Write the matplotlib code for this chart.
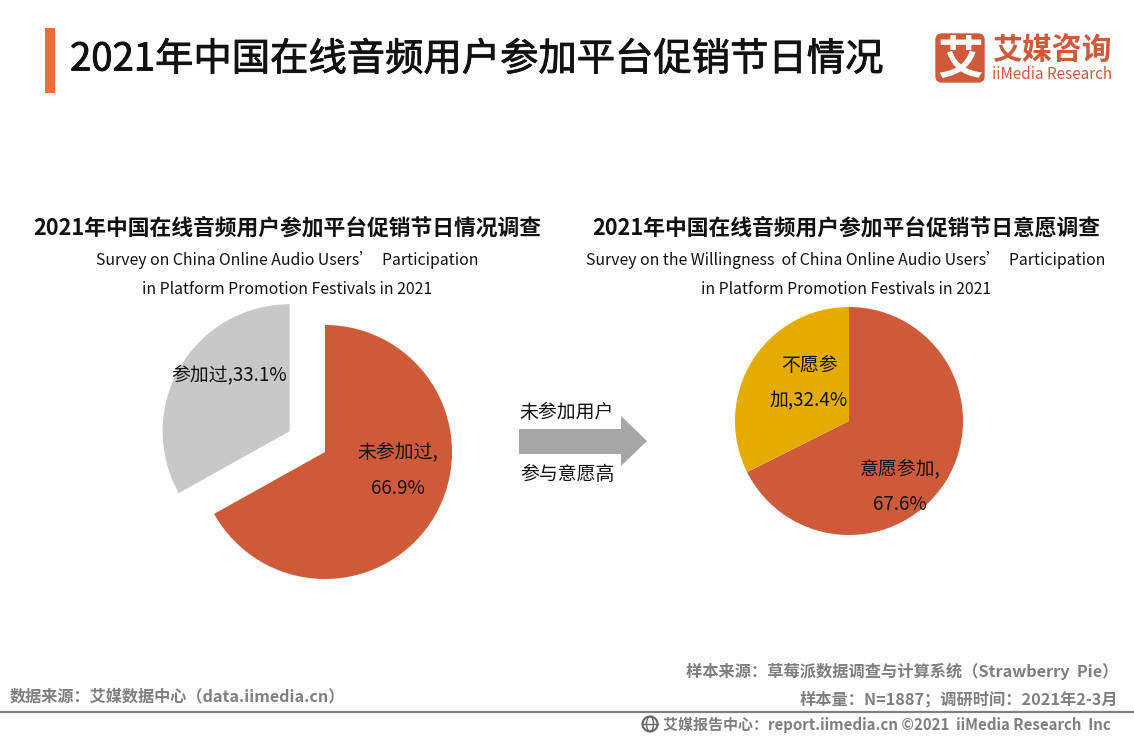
#!/usr/bin/env python3
import matplotlib
matplotlib.use('Agg')
import matplotlib.pyplot as plt
import matplotlib.patheffects as pe
from matplotlib.patches import Rectangle, FancyBboxPatch, Circle, Polygon, Ellipse

plt.rcParams['font.family'] = ['Noto Sans CJK SC', 'DejaVu Sans']

W, H = 1134, 737

# data
part_labels = ['未参加过', '参加过']
part_values = [66.9, 33.1]
will_labels = ['意愿参加', '不愿参加']
will_values = [67.6, 32.4]

RED = '#CF5A3A'
GREY = '#C8C8C8'
YELLOW = '#E5AC00'
ORANGE = '#F26B3A'


def yy(y):
    return H - y


def label(x, y, s, size=13.6, color='#111111', weight='normal', ha='center'):
    return ax.text(x, yy(y), s, fontsize=size, color=color, fontweight=weight,
                   ha=ha, va='center')


fig = plt.figure(figsize=(W / 100, H / 100), dpi=100)
ax = fig.add_axes([0, 0, 1, 1])

# pies (explode is in data units here, i.e. pixels)
ax.pie(part_values, colors=[RED, GREY], startangle=90, counterclock=False,
       explode=[0, 41], radius=127, center=(325, yy(452)), frame=True)
ax.pie(will_values, colors=[RED, YELLOW], startangle=90, counterclock=False,
       radius=114, center=(849, yy(421)), frame=True)

ax.set_xlim(0, W)
ax.set_ylim(0, H)
ax.set_aspect('auto')
ax.axis('off')

# title
ax.add_patch(Rectangle((45, yy(93)), 10, 65, color=ORANGE, lw=0))
title = label(70, 60, '2021年中国在线音频用户参加平台促销节日情况', size=27.6, ha='left')
title.set_path_effects([pe.withStroke(linewidth=0.6, foreground='#111111')])

# logo
ax.add_patch(FancyBboxPatch((936, yy(82)), 48, 48,
                            boxstyle='round,pad=0,rounding_size=6',
                            fc=RED, ec=RED, lw=1))
label(960, 60, '艾', size=33, color='white', weight='bold')
label(1052, 50, '艾媒咨询', size=21.5, color=RED, weight='bold')
label(1052, 74, 'iiMedia Research', size=11, color=RED)

# sub titles
label(287, 228, '2021年中国在线音频用户参加平台促销节日情况调查', size=15.7, weight='bold')
label(287, 260, 'Survey on China Online Audio Users’  Participation', size=11.4)
label(287, 289, 'in Platform Promotion Festivals in 2021', size=11.4)
label(846, 228, '2021年中国在线音频用户参加平台促销节日意愿调查', size=15.7, weight='bold')
label(846, 260, 'Survey on the Willingness  of China Online Audio Users’  Participation', size=11.4)
label(846, 289, 'in Platform Promotion Festivals in 2021', size=11.4)

# slice labels
label(229, 375, f'{part_labels[1]},{part_values[1]}%')
label(398, 452, f'{part_labels[0]},')
label(398, 488, f'{part_values[0]}%')
label(809, 365, '不愿参')
label(809, 401, f'加,{will_values[1]}%')
label(900, 469, f'{will_labels[0]},')
label(900, 505, f'{will_values[0]}%')

# arrow
ax.add_patch(Polygon([(519, yy(429)), (621, yy(429)), (621, yy(416)), (647, yy(441)),
                      (621, yy(466)), (621, yy(454)), (519, yy(454))],
                     fc='#A6A6A6', ec='none'))
label(567, 412, '未参加用户')
label(567, 474, '参与意愿高')

# footer
FOOT = '#7F7F7F'
label(1118, 671, '样本来源：草莓派数据调查与计算系统（Strawberry  Pie）', size=11.7, color=FOOT,
      weight='bold', ha='right')
label(1118, 699, '样本量：N=1887；调研时间：2021年2-3月', size=11.7, color=FOOT,
      weight='bold', ha='right')
label(10, 696, '数据来源：艾媒数据中心（data.iimedia.cn）', size=11.65, color=FOOT,
      weight='bold', ha='left')
ax.plot([0, W], [yy(712), yy(712)], color='#808080', lw=1.6)

ax.add_patch(Circle((650, yy(724)), 7.5, fc='none', ec='#666666', lw=1.5))
ax.add_patch(Ellipse((650, yy(724)), 7, 15, fc='none', ec='#666666', lw=1))
ax.plot([642.5, 657.5], [yy(724), yy(724)], color='#666666', lw=1)
label(1111, 725, '艾媒报告中心：report.iimedia.cn ©2021  iiMedia Research  Inc', size=10.8,
      color=FOOT, weight='bold', ha='right')

fig.savefig('out.png', dpi=100)
